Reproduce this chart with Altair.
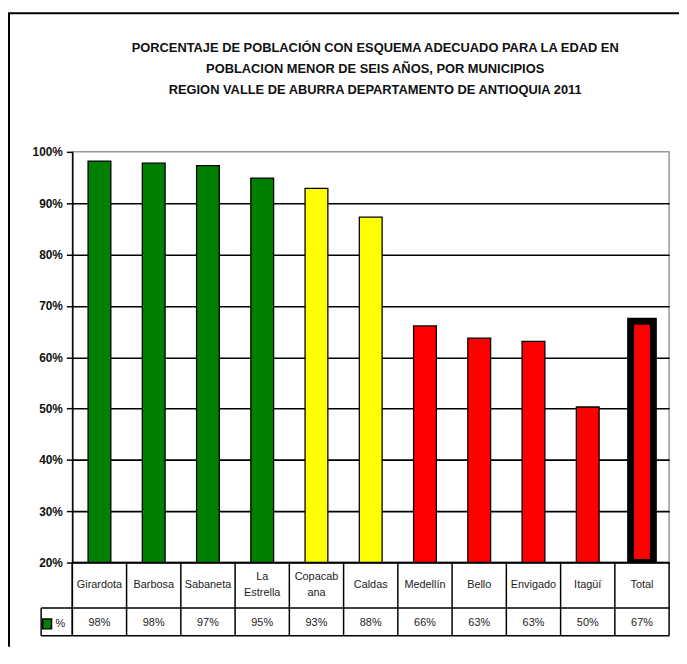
import altair as alt
import pandas as pd

categories = ["Girardota", "Barbosa", "Sabaneta", "La Estrella", "Copacabana",
              "Caldas", "Medellín", "Bello", "Envigado", "Itagüí", "Total"]
category_labels = ["Girardota", "Barbosa", "Sabaneta", "La\nEstrella", "Copacab\nana",
                   "Caldas", "Medellín", "Bello", "Envigado", "Itagüí", "Total"]
values = [98.2, 97.8, 97.3, 94.9, 92.9, 87.3, 66.1, 63.7, 63.1, 50.3, 67.0]
value_labels = ["98%", "98%", "97%", "95%", "93%", "88%", "66%", "63%", "63%", "50%", "67%"]
levels = ["alto", "alto", "alto", "alto", "medio", "medio", "bajo", "bajo", "bajo", "bajo", "bajo"]

title_lines = ["PORCENTAJE DE POBLACIÓN CON ESQUEMA ADECUADO PARA LA EDAD EN",
               "POBLACION MENOR DE SEIS AÑOS, POR MUNICIPIOS",
               "REGION VALLE DE ABURRA DEPARTAMENTO DE ANTIOQUIA 2011"]
y_ticks = [20, 30, 40, 50, 60, 70, 80, 90, 100]

df = pd.DataFrame({"cat": categories, "label": category_labels, "v": values,
                   "vlabel": value_labels, "nivel": levels})
one = pd.DataFrame({"k": [0]})

W, H = 603, 415
PL, PT, PR, PB = 65, 142, 10, 85
FONT = "Liberation Sans"

xenc = alt.X("cat:N", sort=categories, axis=None,
             scale=alt.Scale(domain=categories, paddingInner=0, paddingOuter=0))

def hrule(y, x0, x1, w=1.5):
    return alt.Chart(one).mark_rule(color="black", strokeWidth=w).encode(
        y=alt.value(y), x=alt.value(x0), x2=alt.value(x1))

def vrule(x, y0, y1, w=1.5):
    return alt.Chart(one).mark_rule(color="black", strokeWidth=w).encode(
        x=alt.value(x), y=alt.value(y0), y2=alt.value(y1))

# outer chart frame (top and left visible)
frame_top = hrule(-140, -PL, W + PR, 2)
frame_left = vrule(-64, -140, H + PB, 2)

title = alt.Chart(pd.DataFrame({"t": ["\n".join(title_lines)]})).mark_text(
    font=FONT, fontSize=13, fontWeight="bold", lineBreak="\n", lineHeight=21.5,
    baseline="middle", align="center", color="#111").encode(
    x=alt.value(306), y=alt.value(-105), text="t:N")

bars = alt.Chart(df).mark_bar(clip=True, stroke="black",
                              width=alt.RelativeBandSize(0.42)).encode(
    x=xenc,
    y=alt.Y("v:Q", scale=alt.Scale(domain=[20, 100], zero=False, nice=False),
            axis=alt.Axis(values=y_ticks, labelExpr="datum.value + '%'", title=None,
                          grid=True,
                          gridColor={"condition": {"test": "datum.value >= 100", "value": "transparent"},
                                     "value": "black"},
                          gridWidth=1.6, domainColor="black", domainWidth=1.5,
                          tickColor="black", tickSize=6, tickWidth=1.5,
                          labelFont=FONT, labelFontSize=12, labelFontWeight="bold",
                          labelColor="#111", labelPadding=4)),
    y2=alt.datum(20),
    fill=alt.Fill("nivel:N", legend=None,
                  scale=alt.Scale(domain=["alto", "medio", "bajo"],
                                  range=["#008000", "#FFFF00", "#FF0000"])),
    strokeWidth=alt.condition(alt.datum.cat == "Total", alt.value(7), alt.value(1.3)),
)

cell_lines = alt.Chart(df).mark_rule(color="black", strokeWidth=1.5).encode(
    x=alt.X("cat:N", sort=categories, bandPosition=0, axis=None),
    y=alt.value(H), y2=alt.value(489))

cat_text_1 = alt.Chart(df).transform_filter(
    "indexof(datum.label, '\\n') < 0").mark_text(
    font=FONT, fontSize=11, baseline="middle", color="#222").encode(
    x=xenc, y=alt.value(438), text="label:N")
cat_text_2 = alt.Chart(df).transform_filter(
    "indexof(datum.label, '\\n') >= 0").mark_text(
    font=FONT, fontSize=11, lineBreak="\n", lineHeight=16,
    baseline="middle", color="#222").encode(
    x=xenc, y=alt.value(430), text="label:N")
val_text = alt.Chart(df).mark_text(font=FONT, fontSize=11, baseline="middle",
                                   color="#222").encode(
    x=xenc, y=alt.value(476), text="vlabel:N")

key = alt.Chart(one).mark_rect(fill="#008000", stroke="black", strokeWidth=1.5).encode(
    x=alt.value(-30), x2=alt.value(-21), y=alt.value(472), y2=alt.value(482))
key_text = alt.Chart(pd.DataFrame({"t": ["%"]})).mark_text(
    font=FONT, fontSize=11, baseline="middle", align="center", color="#222").encode(
    x=alt.value(-12), y=alt.value(477), text="t:N")

chart = alt.layer(
    frame_top, frame_left, title, bars,
    hrule(H, 0, W), hrule(461, -31.5, W), hrule(489, -31.5, W),
    vrule(0, H, 489), vrule(W, H, 489), vrule(-31.5, 461, 489),
    cell_lines, cat_text_1, cat_text_2, val_text, key, key_text,
).properties(
    width=W, height=H,
    autosize=alt.AutoSizeParams(type="none"),
    padding={"left": PL, "top": PT, "right": PR, "bottom": PB},
).configure_view(stroke="#999999", strokeWidth=1.5)

chart.save("out.html", embed_options={"renderer": "svg", "actions": False})
